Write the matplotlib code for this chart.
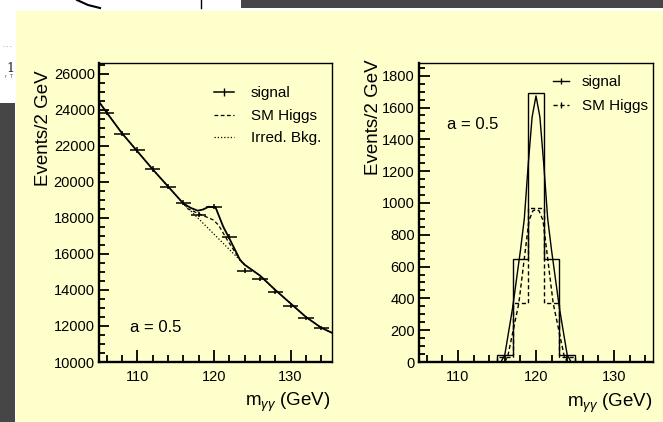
import matplotlib
matplotlib.use("Agg")
import matplotlib.pyplot as plt
from matplotlib.lines import Line2D
from matplotlib.patches import Rectangle
from matplotlib.ticker import MultipleLocator

plt.rcParams["font.family"] = ["Liberation Sans", "DejaVu Sans"]
plt.rcParams["mathtext.fontset"] = "custom"
plt.rcParams["mathtext.rm"] = "Liberation Sans"
plt.rcParams["mathtext.it"] = "Liberation Sans:italic"

# left panel: diphoton mass spectrum, 2 GeV bins
mass = [106, 108, 110, 112, 114, 116, 118, 120, 122, 124, 126, 128, 130, 132, 134]
events = [23850, 22670, 21780, 20720, 19740, 18850, 18170, 18610, 16960,
          15070, 14610, 13910, 13130, 12430, 11910]
events_err = [150, 150, 150, 145, 140, 140, 135, 135, 130, 125, 120, 120, 115, 110, 110]

# irreducible background fit
bkg_m = [105, 106, 108, 110, 112, 114, 116, 118, 120, 122, 124, 126, 128, 130, 132, 134, 135.5]
bkg = [24450, 23850, 22700, 21700, 20700, 19750, 18800, 17950, 17100, 16250,
       15400, 14800, 14000, 13250, 12500, 11900, 11600]

# signal (a = 0.5) fit, background + resonance
sig_m = [105, 106, 108, 110, 112, 114, 116, 117, 117.9, 118.6, 119.3, 120.2,
         121.2, 122.1, 123.4, 124, 126, 128, 130, 132, 134, 135.5]
sig = [24450, 23850, 22700, 21700, 20700, 19750, 18800, 18550, 18400, 18470,
       18620, 18590, 17520, 16780, 15670, 15400, 14800, 14000, 13250, 12500,
       11900, 11600]

# SM Higgs fit, background + SM resonance
sm_m = [116, 116.6, 118.2, 119.9, 120.6, 121.7, 123.4, 124]
sm = [18800, 18500, 18200, 17890, 17600, 16800, 15670, 15400]

# right panel: signal only histograms
edges = [115, 117, 119, 121, 123, 125]
sig_hist = [44, 646, 1690, 646, 44]
sm_hist = [30, 369, 967, 369, 30]

sig_curve_m = [115.5, 116.0, 117.0, 117.5, 118.0, 118.5, 119.0, 119.5, 120.0,
               120.5, 121.0, 121.5, 122.0, 122.5, 123.0, 124.0, 124.5]
sig_curve = [0, 45, 340, 520, 700, 900, 1240, 1540, 1673,
             1540, 1240, 900, 700, 520, 340, 45, 0]
sm_curve_m = [116.0, 116.4, 117.8, 119.1, 119.6, 120.0, 120.4, 120.9, 122.2, 123.6, 124.0]
sm_curve = [0, 40, 370, 890, 950, 960, 950, 890, 370, 40, 0]

W, H = 663, 422
YELLOW = "#ffffcc"
DARK = "#464646"

fig = plt.figure(figsize=(W / 100, H / 100), dpi=100, facecolor=YELLOW)


def box(x0, y0, x1, y1, color):
    fig.add_artist(Rectangle((x0 / W, 1 - y1 / H), (x1 - x0) / W, (y1 - y0) / H,
                             transform=fig.transFigure, facecolor=color,
                             edgecolor="none", zorder=-5))


# screenshot surroundings
box(0, 0, 663, 11, "white")
box(241, 0, 663, 8, DARK)
box(0, 11, 16, 422, "white")
box(0, 103, 15, 422, DARK)
fig.add_artist(Line2D([77 / W, 88 / W, 100 / W], [1, 1 - 5 / H, 1 - 8 / H],
                      transform=fig.transFigure, color="k", lw=1.5))
fig.add_artist(Line2D([201 / W, 201 / W], [1, 1 - 8 / H],
                      transform=fig.transFigure, color="k", lw=1))
fig.text(10 / W, 1 - 68 / H, "1", family="DejaVu Serif", fontsize=9,
         ha="center", va="center", color="#222222")
fig.text(7 / W, 1 - 46 / H, "- - -", fontsize=4, ha="center", va="center", color="#777777")
fig.text(9 / W, 1 - 76 / H, "r  T", fontsize=4, ha="center", va="center", color="#555555")


def setup(ax, ymaj, ymin, ylen):
    ax.set_facecolor("none")
    ax.xaxis.set_major_locator(MultipleLocator(10))
    ax.xaxis.set_minor_locator(MultipleLocator(2))
    ax.yaxis.set_major_locator(MultipleLocator(ymaj))
    ax.yaxis.set_minor_locator(MultipleLocator(ymin))
    ax.tick_params(which="both", direction="in", top=False, right=False,
                   width=1.3, labelsize=10.5, color="k")
    ax.tick_params(axis="x", which="major", length=9, pad=6)
    ax.tick_params(axis="x", which="minor", length=5)
    ax.tick_params(axis="y", which="major", length=ylen, pad=3)
    ax.tick_params(axis="y", which="minor", length=4)
    for s in ["left", "bottom"]:
        ax.spines[s].set_linewidth(1.7)
    for s in ["top", "right"]:
        ax.spines[s].set_linewidth(1.0)


# ---- left panel
ax1 = fig.add_axes([99 / W, 1 - 362 / H, 233 / W, 299 / H])
setup(ax1, 2000, 500, 7)
ax1.set_xlim(105, 135.4)
ax1.set_ylim(10000, 26600)
ax1.plot(bkg_m, bkg, color="k", lw=0.9, ls=(0, (1, 1.6)))
ax1.plot(sm_m, sm, color="k", lw=0.9, ls=(0, (3, 2)))
ax1.plot(sig_m, sig, color="k", lw=1.3)
ax1.errorbar(mass, events, xerr=1, yerr=events_err, fmt="none", ecolor="k",
             elinewidth=1.1, capsize=0)
ax1.text(0.133, 0.117, "a = 0.5", transform=ax1.transAxes, fontsize=12,
         ha="left", va="center")
h1 = [Line2D([], [], color="k", lw=1.1, marker="|", ms=6),
      Line2D([], [], color="k", lw=0.9, ls=(0, (3, 2))),
      Line2D([], [], color="k", lw=0.9, ls=(0, (1, 1.6)))]
ax1.legend(h1, ["signal", "SM Higgs", "Irred. Bkg."], loc="upper left",
           bbox_to_anchor=(0.494, 0.922), frameon=False, fontsize=11,
           borderpad=0, borderaxespad=0, handlelength=1.3, handletextpad=1.1,
           labelspacing=0.56)

# ---- right panel
ax2 = fig.add_axes([419 / W, 1 - 362 / H, 234 / W, 299 / H])
setup(ax2, 200, 50, 8)
ax2.set_xlim(105, 135)
ax2.set_ylim(0, 1880)
ax2.stairs(sig_hist, edges, color="k", lw=1.0)
ax2.stairs(sm_hist, edges, color="k", lw=1.0, ls=(0, (3, 2)))
ax2.plot(sig_curve_m, sig_curve, color="k", lw=1.0)
ax2.plot(sm_curve_m, sm_curve, color="k", lw=1.0, ls=(0, (3, 2)))
ax2.text(0.12, 0.793, "a = 0.5", transform=ax2.transAxes, fontsize=12,
         ha="left", va="center")
h2 = [Line2D([], [], color="k", lw=1.0, marker="|", ms=4),
      Line2D([], [], color="k", lw=1.0, ls=(0, (3, 2)), marker="|", ms=4)]
ax2.legend(h2, ["signal", "SM Higgs"], loc="upper left",
           bbox_to_anchor=(0.571, 0.96), frameon=False, fontsize=11,
           borderpad=0, borderaxespad=0, handlelength=1.1, handletextpad=0.8,
           labelspacing=0.66)

# axis titles, ROOT style (aligned to axis ends)
fig.text(43 / W, 1 - 70 / H, "Events/2 GeV", rotation=90, fontsize=13.5,
         ha="center", va="top")
fig.text(373 / W, 1 - 59 / H, "Events/2 GeV", rotation=90, fontsize=13.5,
         ha="center", va="top")
fig.text(330 / W, 1 - 402 / H, r"m$_{\gamma\gamma}$ (GeV)", fontsize=13.5,
         ha="right", va="center")
fig.text(652 / W, 1 - 403 / H, r"m$_{\gamma\gamma}$ (GeV)", fontsize=13.5,
         ha="right", va="center")

fig.savefig("out.png", dpi=100, facecolor=YELLOW)
